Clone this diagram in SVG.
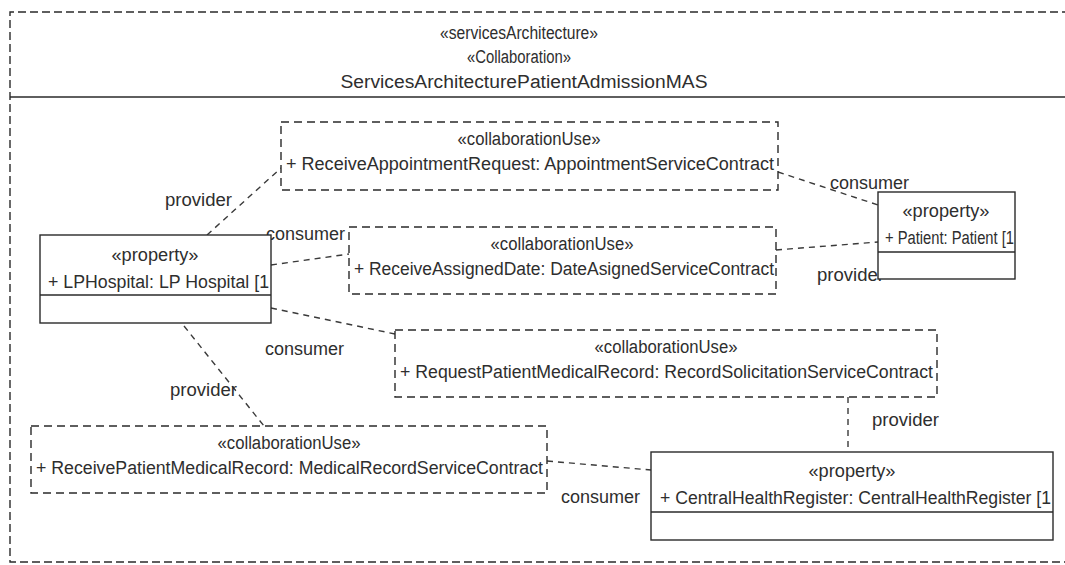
<svg xmlns="http://www.w3.org/2000/svg" width="1065" height="565" viewBox="0 0 1065 565">
  <style>
    text { font-family: "Liberation Sans", Arial, sans-serif; font-size: 18px; fill: #2e2e2e; }
    .mid { text-anchor: middle; }
    .frame { fill: none; stroke: #2a2a2a; stroke-width: 1.4; stroke-dasharray: 8 4; }
    .cu { fill: #ffffff; stroke: #2a2a2a; stroke-width: 1.4; stroke-dasharray: 8 5; }
    .prop { fill: #ffffff; stroke: #2a2a2a; stroke-width: 1.4; }
    .sep { stroke: #2a2a2a; stroke-width: 1.4; }
    .conn { fill: none; stroke: #3a3a3a; stroke-width: 1.4; stroke-dasharray: 6 5; }
  </style>

  <rect x="0" y="0" width="1065" height="565" fill="#ffffff"/>

  <!-- collaboration frame with title compartment -->
  <g id="servicesArchitecture">
    <path class="frame" d="M1070 12 H10 V562 H1070"/>
    <line class="sep" x1="10" y1="97" x2="1065" y2="97" stroke-width="1.6"/>
    <text class="mid" x="519" y="39" textLength="158" lengthAdjust="spacingAndGlyphs">«servicesArchitecture»</text>
    <text class="mid" x="519" y="63" textLength="104" lengthAdjust="spacingAndGlyphs">«Collaboration»</text>
    <text class="mid" x="524" y="88" textLength="367" lengthAdjust="spacingAndGlyphs">ServicesArchitecturePatientAdmissionMAS</text>
  </g>

  <!-- role bindings between parts and collaboration uses -->
  <g id="connectors">
    <line class="conn" x1="207" y1="235" x2="281" y2="168"/>
    <line class="conn" x1="271" y1="265" x2="349" y2="254"/>
    <line class="conn" x1="778" y1="172" x2="878" y2="205"/>
    <line class="conn" x1="776" y1="250" x2="878" y2="242"/>
    <line class="conn" x1="271" y1="308" x2="395" y2="334"/>
    <line class="conn" x1="184" y1="326" x2="264" y2="426"/>
    <line class="conn" x1="547" y1="461" x2="651" y2="470"/>
    <line class="conn" x1="848" y1="397" x2="848" y2="452"/>
    <text x="165" y="206" textLength="67" lengthAdjust="spacingAndGlyphs">provider</text>
    <text x="266" y="240" textLength="79" lengthAdjust="spacingAndGlyphs">consumer</text>
    <text x="830" y="189" textLength="79" lengthAdjust="spacingAndGlyphs">consumer</text>
    <text x="817" y="281" textLength="67" lengthAdjust="spacingAndGlyphs">provider</text>
    <text x="265" y="355" textLength="79" lengthAdjust="spacingAndGlyphs">consumer</text>
    <text x="170" y="396" textLength="67" lengthAdjust="spacingAndGlyphs">provider</text>
    <text x="561" y="503" textLength="79" lengthAdjust="spacingAndGlyphs">consumer</text>
    <text x="872" y="426" textLength="67" lengthAdjust="spacingAndGlyphs">provider</text>
  </g>

  <g id="cuReceiveAppointmentRequest">
    <rect class="cu" x="281" y="122" width="497" height="68"/>
    <text class="mid" x="529" y="145" textLength="143" lengthAdjust="spacingAndGlyphs">«collaborationUse»</text>
    <text x="286" y="170" textLength="488" lengthAdjust="spacingAndGlyphs">+ ReceiveAppointmentRequest: AppointmentServiceContract</text>
  </g>

  <g id="cuReceiveAssignedDate">
    <rect class="cu" x="349" y="227" width="427" height="67"/>
    <text class="mid" x="562" y="250" textLength="143" lengthAdjust="spacingAndGlyphs">«collaborationUse»</text>
    <text x="354" y="275" textLength="420" lengthAdjust="spacingAndGlyphs">+ ReceiveAssignedDate: DateAsignedServiceContract</text>
  </g>

  <g id="cuRequestPatientMedicalRecord">
    <rect class="cu" x="395" y="330" width="542" height="67"/>
    <text class="mid" x="666" y="353" textLength="143" lengthAdjust="spacingAndGlyphs">«collaborationUse»</text>
    <text x="400" y="378" textLength="533" lengthAdjust="spacingAndGlyphs">+ RequestPatientMedicalRecord: RecordSolicitationServiceContract</text>
  </g>

  <g id="cuReceivePatientMedicalRecord">
    <rect class="cu" x="31" y="426" width="516" height="67"/>
    <text class="mid" x="289" y="449" textLength="143" lengthAdjust="spacingAndGlyphs">«collaborationUse»</text>
    <text x="36" y="474" textLength="507" lengthAdjust="spacingAndGlyphs">+ ReceivePatientMedicalRecord: MedicalRecordServiceContract</text>
  </g>

  <g id="propLPHospital">
    <rect class="prop" x="40" y="235" width="231" height="88"/>
    <line class="sep" x1="40" y1="295" x2="271" y2="295"/>
    <text class="mid" x="155" y="261" textLength="87" lengthAdjust="spacingAndGlyphs">«property»</text>
    <text x="48" y="288" textLength="221" lengthAdjust="spacingAndGlyphs">+ LPHospital: LP Hospital [1</text>
  </g>

  <g id="propPatient">
    <rect class="prop" x="878" y="192" width="137" height="87"/>
    <line class="sep" x1="878" y1="252" x2="1015" y2="252"/>
    <text class="mid" x="946" y="217" textLength="87" lengthAdjust="spacingAndGlyphs">«property»</text>
    <text x="885" y="244" textLength="129" lengthAdjust="spacingAndGlyphs">+ Patient: Patient [1</text>
  </g>

  <g id="propCentralHealthRegister">
    <rect class="prop" x="651" y="452" width="402" height="88"/>
    <line class="sep" x1="651" y1="512" x2="1053" y2="512"/>
    <text class="mid" x="852" y="477" textLength="87" lengthAdjust="spacingAndGlyphs">«property»</text>
    <text x="660" y="504" textLength="391" lengthAdjust="spacingAndGlyphs">+ CentralHealthRegister: CentralHealthRegister [1</text>
  </g>
</svg>
